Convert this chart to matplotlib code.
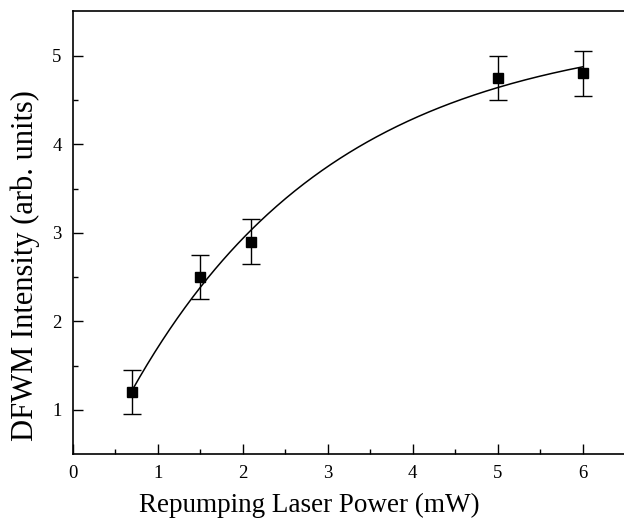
import numpy as np
import matplotlib
matplotlib.use("Agg")
import matplotlib.pyplot as plt

power_mw = [0.7, 1.5, 2.1, 5.0, 6.0]
intensity = [1.2, 2.5, 2.9, 4.75, 4.8]
intensity_err = [0.25, 0.25, 0.25, 0.25, 0.25]

x_ticks = [0, 1, 2, 3, 4, 5, 6]
y_ticks = [1, 2, 3, 4, 5]

plt.rcParams["font.family"] = ["Liberation Serif", "DejaVu Serif"]

# saturating fit A - B*exp(-x/tau), least squares over a grid of tau
x = np.array(power_mw)
y = np.array(intensity)
best = None
for tau in np.linspace(0.5, 10, 2000):
    M = np.column_stack([np.ones_like(x), -np.exp(-x / tau)])
    coef, res, _, _ = np.linalg.lstsq(M, y, rcond=None)
    err = np.sum((M @ coef - y) ** 2)
    if best is None or err < best[0]:
        best = (err, tau, coef)
_, tau, (A, B) = best
x_fit = np.linspace(min(power_mw), max(power_mw), 300)
y_fit = A - B * np.exp(-x_fit / tau)

fig = plt.figure(figsize=(6.24, 5.25), dpi=100)
ax = fig.add_axes([0.1165, 0.1352, 0.8854, 0.8429])

ax.plot(x_fit, y_fit, color="black", linewidth=1.1)
ax.errorbar(power_mw, intensity, yerr=intensity_err, fmt="s", color="black",
            markersize=7, capsize=6.5, elinewidth=1.0, capthick=1.0)

ax.set_xlim(0, 6.5)
ax.set_ylim(0.5, 5.5)
ax.set_xticks(x_ticks)
ax.set_yticks(y_ticks)
ax.set_xticks(np.arange(0.5, 6.5, 1.0), minor=True)
ax.set_yticks(np.arange(1.5, 5.5, 1.0), minor=True)
ax.tick_params(which="major", direction="in", length=7.5, width=1.0,
               labelsize=13.5, pad=8, top=False, right=False)
ax.tick_params(which="minor", direction="in", length=3.5, width=1.0,
               top=False, right=False)
for side in ["left", "bottom", "top"]:
    ax.spines[side].set_linewidth(1.2)
ax.spines["right"].set_visible(False)

ax.set_xlabel("Repumping Laser Power (mW)", fontsize=19.5)
ax.xaxis.set_label_coords(0.428, -0.087)
ax.set_ylabel("DFWM Intensity (arb. units)", fontsize=22)
ax.yaxis.set_label_coords(-0.06, 0.427)

fig.savefig("out.png", dpi=100)
